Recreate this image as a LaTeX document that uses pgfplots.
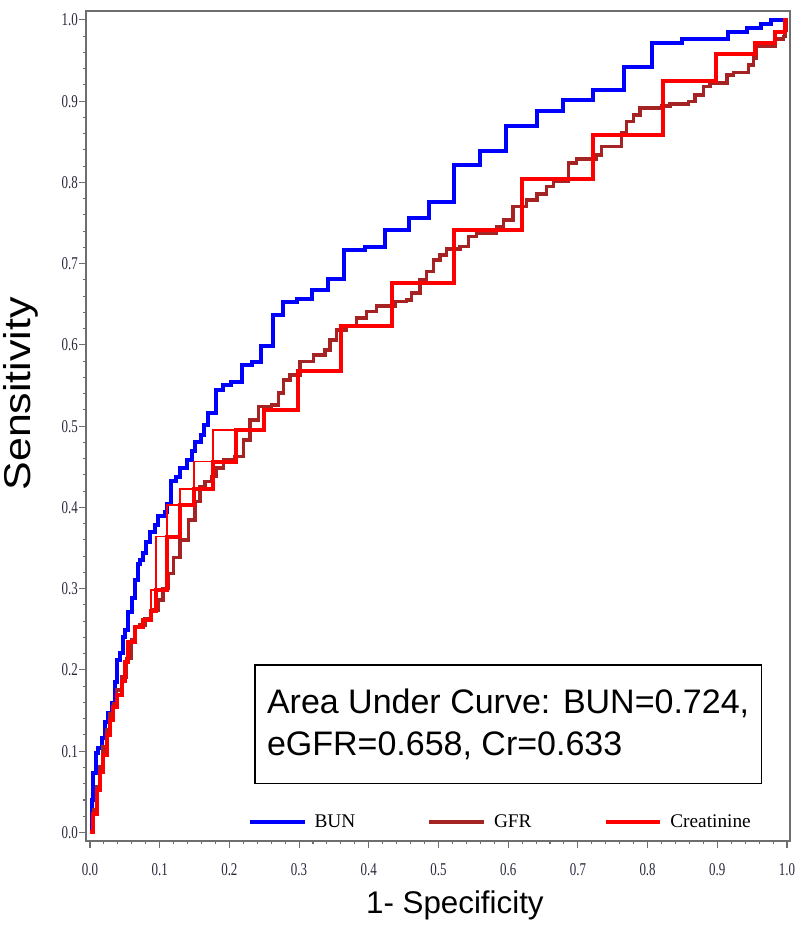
\documentclass[border=0pt]{standalone}
\usepackage{fontspec}
\setmainfont{Liberation Serif}
\newfontfamily\arial{Liberation Sans}
\usepackage{graphicx}
\usepackage{pgfplots}
\pgfplotsset{compat=1.18}
\definecolor{bunblue}{RGB}{0,0,255}
\definecolor{gfrbrown}{RGB}{165,35,35}
\definecolor{crred}{RGB}{255,0,0}
\definecolor{framegray}{RGB}{110,110,110}
\definecolor{ticklab}{RGB}{40,40,60}
\begin{document}
\begin{tikzpicture}
\useasboundingbox (-64.5pt,-68.25pt) rectangle (535.5pt,630.75pt);
\begin{axis}[
  at={(0,0)}, anchor=south west,
  scale only axis, width=528pt, height=622.5pt,
  xmin=-0.0057, xmax=1.0043, ymin=-0.0105, ymax=1.011,
  xtick={0,0.1,0.2,0.3,0.4,0.5,0.6,0.7,0.8,0.9,1.0},
  ytick={0,0.1,0.2,0.3,0.4,0.5,0.6,0.7,0.8,0.9,1.0},
  minor tick num=4,
  tick align=outside, tick pos=left,
  major tick length=5pt, minor tick length=2.5pt,
  axis line style={framegray, line width=1.1pt},
  every tick/.style={framegray, line width=0.8pt},
  /pgf/number format/assume math mode=true,
  xticklabel={\scalebox{0.72}[1]{\pgfmathprintnumber[fixed,precision=1,fixed zerofill]{\tick}}},
  yticklabel={\scalebox{0.72}[1]{\pgfmathprintnumber[fixed,precision=1,fixed zerofill]{\tick}}},
  tick label style={font=\fontsize{13.5}{13.5}\selectfont, text=ticklab},
  xticklabel style={yshift=-8pt},
  yticklabel style={inner sep=1pt},
  xlabel={1- Specificity}, ylabel={\scalebox{1.15}[1]{Sensitivity}},
  every axis x label/.style={at={(rel axis cs:0.524,-0.0771)}, anchor=center, font=\arial\fontsize{23.5}{23.5}\selectfont},
  every axis y label/.style={at={(rel axis cs:-0.0925,0.5388)}, rotate=90, anchor=center, font=\arial\fontsize{28}{28}\selectfont},
  clip=false,
  legend columns=3,
  legend image code/.code={\draw[#1, line width=3pt] (0pt,0pt) -- (41pt,0pt);},
  legend style={at={(rel axis cs:0.589,0.0229)}, anchor=center, draw=none, fill=none,
    font=\fontsize{14.5}{14.5}\selectfont,
    /tikz/every odd column/.append style={column sep=4pt},
    /tikz/every even column/.append style={column sep=52pt}},
]
\addplot[const plot, bunblue, line width=3pt] coordinates {
(0,0) (0.0024,0.04) (0.0048,0.073) (0.0086,0.0975) (0.012,0.1036) (0.0167,0.116)
(0.0215,0.136) (0.0263,0.1467) (0.031,0.159) (0.0359,0.1856) (0.0392,0.212) (0.043,0.2205)
(0.0469,0.241) (0.050,0.249) (0.055,0.2718) (0.0598,0.288) (0.0646,0.311) (0.0693,0.331)
(0.0717,0.335) (0.0765,0.344) (0.0803,0.358) (0.086,0.370) (0.093,0.378) (0.098,0.389)
(0.1076,0.395) (0.111,0.404) (0.1157,0.432) (0.124,0.438) (0.129,0.448) (0.139,0.459)
(0.146,0.469) (0.1506,0.481) (0.160,0.489) (0.1636,0.5015) (0.170,0.516) (0.181,0.5446)
(0.191,0.551) (0.203,0.555) (0.2176,0.575) (0.232,0.5795) (0.2453,0.599) (0.263,0.637)
(0.2774,0.653) (0.2965,0.6566) (0.318,0.6677) (0.342,0.681) (0.365,0.717) (0.3945,0.721)
(0.423,0.7415) (0.458,0.756) (0.487,0.776) (0.522,0.821) (0.5595,0.839) (0.597,0.8695)
(0.642,0.888) (0.679,0.902) (0.721,0.914) (0.766,0.942) (0.806,0.971) (0.849,0.976)
(0.916,0.985) (0.942,0.990) (0.962,0.995) (0.977,1.0) (1.0,1.0)
};
\addlegendentry{BUN}
\addplot[const plot, gfrbrown, line width=2.7pt] coordinates {
(0,0) (0.0048,0.0277) (0.0096,0.0562) (0.0143,0.0808) (0.0191,0.1054) (0.0239,0.1259)
(0.0287,0.1464) (0.0335,0.1587) (0.0383,0.1751) (0.0454,0.1915) (0.0526,0.2141) (0.0598,0.2367)
(0.0646,0.2531) (0.0717,0.2551) (0.0789,0.2633) (0.0885,0.2736) (0.0980,0.2859) (0.1052,0.3003)
(0.1124,0.3187) (0.1196,0.3383) (0.1291,0.360) (0.1411,0.3846) (0.1506,0.4071) (0.1578,0.4256)
(0.1650,0.4318) (0.1746,0.4379) (0.1818,0.4482) (0.1913,0.4584) (0.2080,0.4625) (0.2200,0.4830)
(0.2296,0.5077) (0.2415,0.5241) (0.2607,0.5262) (0.2702,0.5405) (0.2774,0.5569) (0.2870,0.5631)
(0.3013,0.5795) (0.3204,0.5877) (0.3371,0.5938) (0.3443,0.6062) (0.3539,0.6185) (0.3682,0.6226)
(0.3826,0.6328) (0.3970,0.6410) (0.4113,0.6480) (0.4376,0.6533) (0.4543,0.6554) (0.4615,0.6636)
(0.4735,0.6800) (0.4830,0.6902) (0.4926,0.7046) (0.5022,0.7108) (0.5117,0.7178) (0.5308,0.7210)
(0.5428,0.7333) (0.5548,0.7375) (0.5835,0.7456) (0.5930,0.7538) (0.6073,0.7702) (0.6265,0.7785)
(0.6409,0.7855) (0.6552,0.7948) (0.6648,0.8010) (0.6863,0.8236) (0.6982,0.8285) (0.7269,0.8338)
(0.7341,0.8441) (0.7628,0.8605) (0.7700,0.8749) (0.7795,0.8831) (0.7891,0.8913) (0.8202,0.8942)
(0.8321,0.8966) (0.8584,0.8995) (0.8680,0.9077) (0.8800,0.9179) (0.8895,0.9221) (0.9135,0.9323)
(0.9230,0.9352) (0.9445,0.9446) (0.9517,0.9528) (0.9565,0.9672) (0.9828,0.9762) (0.9947,0.9795)
(0.9971,0.9877) (0.9995,1.0) (1,1)
};
\addlegendentry{GFR}
\addplot[const plot, crred, line width=3pt] coordinates {
(0,0) (0.0048,0.023) (0.0096,0.052) (0.0143,0.075) (0.0191,0.095) (0.0239,0.12)
(0.0287,0.1385) (0.0335,0.155) (0.0383,0.169) (0.0454,0.186) (0.0502,0.210) (0.055,0.235)
(0.0646,0.253) (0.076,0.261) (0.088,0.272) (0.0947,0.2988) (0.110,0.3641) (0.129,0.4031)
(0.149,0.4223) (0.176,0.4564) (0.2095,0.4954) (0.250,0.5200) (0.299,0.5685) (0.360,0.6236)
(0.4328,0.6767) (0.5222,0.7415) (0.6193,0.8039) (0.7221,0.8585) (0.8216,0.9253) (0.8981,0.9582)
(0.9541,0.9713) (0.9828,0.9856) (0.9971,1.0) (1,1)
};
\addlegendentry{Creatinine}
\addplot[const plot mark right, crred, line width=1.3pt, forget plot] coordinates {
(0.088,0.272) (0.0947,0.2988) (0.110,0.3641) (0.129,0.4031)
(0.149,0.4223) (0.176,0.4564) (0.2095,0.4954)
};
\node[draw=black, line width=1.4pt, minimum width=380pt, minimum height=89pt, align=left,
  font=\arial\fontsize{25.5}{31.5}\selectfont] at (rel axis cs:0.5996,0.1407)
  {Area Under Curve: BUN=0.724,\\eGFR=0.658, Cr=0.633};
\end{axis}
\end{tikzpicture}
\end{document}
